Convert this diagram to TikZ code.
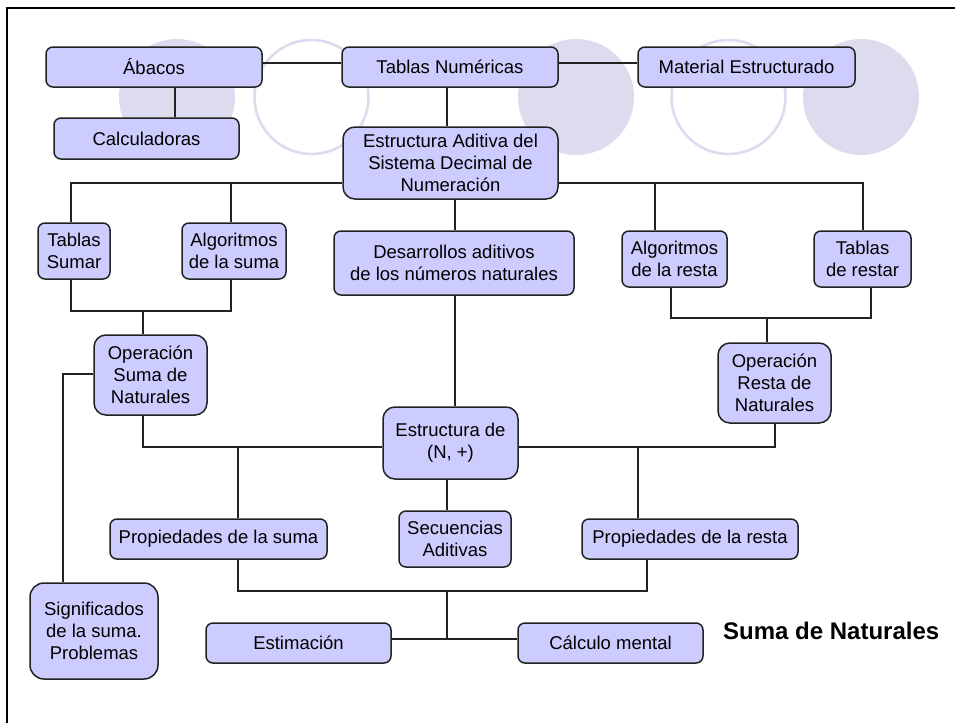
\documentclass[tikz,border=0pt]{standalone}
\usepackage{fontspec}
\setmainfont{Liberation Sans}
\definecolor{boxfill}{HTML}{CCCCFF}
\definecolor{boxline}{HTML}{222222}
\definecolor{ringcol}{HTML}{DCDCEE}
\begin{document}
\begin{tikzpicture}[x=1pt,y=-1pt,
  box/.style={draw=boxline, fill=boxfill, line width=1.5pt, rounded corners=7pt,
    inner sep=0pt, align=center, font=\fontsize{18.5}{22}\selectfont},
  tallbox/.style={box, rounded corners=12pt},
  link/.style={draw=boxline, line width=1.4pt},
  disc/.style={fill=ringcol},
  ring/.style={draw=ringcol, line width=2.6pt}]
\useasboundingbox (0,0) rectangle (955,723);
\fill[white] (0,0) rectangle (955,723);

% background circles
\fill[disc] (177,97) circle (58);
\draw[ring] (311.5,97) circle (57);
\fill[disc] (576,97) circle (58);
\draw[ring] (728.5,97) circle (57);
\fill[disc] (861,97) circle (58);

% frame
\draw[line width=2.4pt, black] (7,723) -- (7,8) -- (955,8);

% top row
\node[box, minimum width=216pt, minimum height=40pt] (abacos) at (154,67) {Ábacos};
\node[box, minimum width=216pt, minimum height=40pt] (tablasnum) at (450,67) {Tablas Numéricas};
\node[box, minimum width=217pt, minimum height=40pt] (material) at (746.5,67) {Material Estructurado};
\node[box, minimum width=185pt, minimum height=41pt] (calc) at (146.5,138.5) {Calculadoras};
\node[tallbox, minimum width=215pt, minimum height=72pt] (aditiva) at (450.5,163)
  {Estructura Aditiva del\\Sistema Decimal de\\Numeración};

% second row
\node[box, minimum width=72pt, minimum height=56pt] (tsumar) at (74,251) {Tablas\\Sumar};
\node[box, minimum width=104pt, minimum height=56pt] (algsuma) at (234,251) {Algoritmos\\de la suma};
\node[box, minimum width=240pt, minimum height=64pt] (desarrollos) at (454,263)
  {Desarrollos aditivos\\de los números naturales};
\node[box, minimum width=105pt, minimum height=56pt] (algresta) at (674.5,259) {Algoritmos\\de la resta};
\node[box, minimum width=97pt, minimum height=56pt] (trestar) at (862.5,259) {Tablas\\de restar};

% operations
\node[tallbox, minimum width=113pt, minimum height=80pt] (opsuma) at (150.5,375)
  {Operación\\Suma de\\Naturales};
\node[tallbox, minimum width=113pt, minimum height=80pt] (opresta) at (774.5,383)
  {Operación\\Resta de\\Naturales};
\node[tallbox, minimum width=135pt, minimum height=72pt] (estrN) at (450.5,443)
  {Estructura de\\(N, +)};

% properties
\node[box, minimum width=217pt, minimum height=40pt] (propsuma) at (218.5,539) {Propiedades de la suma};
\node[box, minimum width=112pt, minimum height=56pt] (secuencias) at (455,539) {Secuencias\\Aditivas};
\node[box, minimum width=216pt, minimum height=40pt] (propresta) at (690,539) {Propiedades de la resta};

% bottom row
\node[tallbox, rounded corners=14pt, minimum width=128pt, minimum height=96pt] (signif) at (94,631)
  {Significados\\de la suma.\\Problemas};
\node[box, minimum width=185pt, minimum height=40pt] (estim) at (298.5,643) {Estimación};
\node[box, minimum width=185pt, minimum height=40pt] (calcm) at (610.5,643) {Cálculo mental};

\node[anchor=base west, inner sep=0pt, font=\fontsize{24}{28}\selectfont\bfseries] (title)
  at (723,639) {Suma de Naturales};

% junction points of the connector tree
\coordinate (h1) at (0,63);
\coordinate (v1) at (175,0);
\coordinate (v2) at (447,0);
\coordinate (ja) at (71,183);
\coordinate (jb) at (231,183);
\coordinate (jc) at (863,183);
\coordinate (jd) at (655,183);
\coordinate (v3) at (455,0);
\coordinate (k1) at (71,311);
\coordinate (k2) at (231,311);
\coordinate (k3) at (143,311);
\coordinate (m1) at (671,318);
\coordinate (m2) at (871,318);
\coordinate (m3) at (767,318);
\coordinate (n1) at (143,447);
\coordinate (n2) at (238,447);
\coordinate (o1) at (775,447);
\coordinate (o2) at (638,447);
\coordinate (s1) at (63,374);
\coordinate (v4) at (447,0);
\coordinate (q1) at (238,591);
\coordinate (q2) at (647,591);
\coordinate (q3) at (447,591);
\coordinate (q4) at (447,639);

% connectors
\draw[link] (abacos.east |- h1) -- (tablasnum.west |- h1);
\draw[link] (tablasnum.east |- h1) -- (material.west |- h1);
\draw[link] (v1 |- abacos.south) -- (v1 |- calc.north);
\draw[link] (v2 |- tablasnum.south) -- (v2 |- aditiva.north);
\draw[link] (aditiva.west |- ja) -| (ja |- tsumar.north);
\draw[link] (jb) -- (jb |- algsuma.north);
\draw[link] (aditiva.east |- jc) -| (jc |- trestar.north);
\draw[link] (jd) -- (jd |- algresta.north);
\draw[link] (v3 |- aditiva.south) -- (v3 |- desarrollos.north);
\draw[link] (v3 |- desarrollos.south) -- (v3 |- estrN.north);
\draw[link] (k1 |- tsumar.south) -- (k1) -- (k2) -- (k2 |- algsuma.south);
\draw[link] (k3) -- (k3 |- opsuma.north);
\draw[link] (m1 |- algresta.south) -- (m1) -- (m2) -- (m2 |- trestar.south);
\draw[link] (m3) -- (m3 |- opresta.north);
\draw[link] (n1 |- opsuma.south) -- (n1) -- (estrN.west |- n1);
\draw[link] (n2) -- (n2 |- propsuma.north);
\draw[link] (o1 |- opresta.south) -- (o1) -- (estrN.east |- o1);
\draw[link] (o2) -- (o2 |- propresta.north);
\draw[link] (opsuma.west |- s1) -- (s1) -- (s1 |- signif.north);
\draw[link] (v4 |- estrN.south) -- (v4 |- secuencias.north);
\draw[link] (q1 |- propsuma.south) -- (q1) -- (q2) -- (q2 |- propresta.south);
\draw[link] (q3) -- (q4);
\draw[link] (estim.east |- q4) -- (calcm.west |- q4);
\end{tikzpicture}
\end{document}
